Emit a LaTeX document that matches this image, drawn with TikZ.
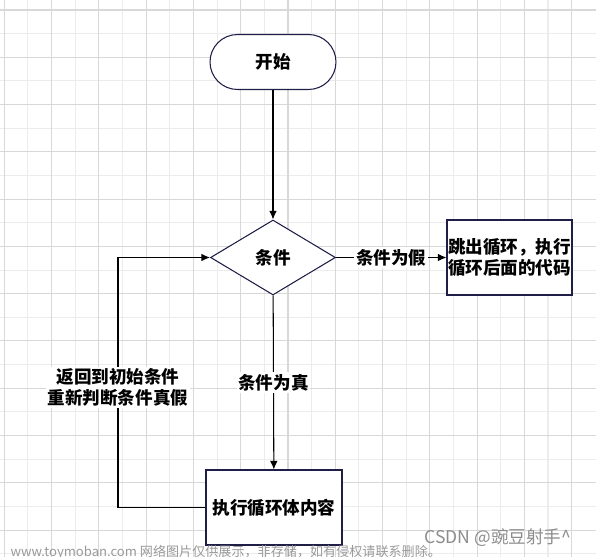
\documentclass[tikz,border=0pt]{standalone}
\usepackage{fontspec}
\setmainfont{Noto Sans CJK SC}
\usetikzlibrary{shapes.geometric, arrows.meta}
\definecolor{edgeblue}{RGB}{30,30,70}
\definecolor{gridmajor}{RGB}{216,216,216}
\definecolor{gridminor}{RGB}{236,236,236}
\tikzset{
  startstop/.style={draw=edgeblue, fill=white, rounded corners=0.55cm, minimum width=2.52cm, minimum height=1.1cm, font=\bfseries},
  decision/.style={draw=edgeblue, fill=white, diamond, inner sep=0pt, minimum width=2.5cm, minimum height=1.5cm, font=\bfseries},
  process/.style={draw=edgeblue, fill=white, inner xsep=0pt, minimum height=1.5cm, align=center, font=\bfseries},
  arrow/.style={-{Latex[length=1.7mm, width=1.5mm]}},
  lbl/.style={fill=white, inner sep=1pt, align=center, font=\bfseries},
}

\begin{document}
\begin{tikzpicture}[x=0.02cm, y=-0.02cm, line width=0.6pt, font=\fontsize{8.6}{14.6}\selectfont]
        \useasboundingbox (0,0) rectangle (596,557);
        % grid
        \foreach \i in {1,3,...,23} \draw[gridminor] ({4.3+23.64*\i},0) -- ({4.3+23.64*\i},557);
        \foreach \j in {1,3,...,23} \draw[gridminor] (0,{10+23.64*\j}) -- (596,{10+23.64*\j});
        \foreach \i in {0,2,...,24} \draw[gridmajor] ({4.3+23.64*\i},0) -- ({4.3+23.64*\i},557);
        \foreach \j in {0,2,...,22} \draw[gridmajor] (0,{10+23.64*\j}) -- (596,{10+23.64*\j});

        \node[startstop] (start) at (273,62) {开始};
        \node[decision] (cond) at (273,257.5) {条件};
        \node[process, minimum width=2.5cm] (exit) at (509.5,257.5) {跳出循环，执行\\循环后面的代码};
        \node[process, minimum width=2.72cm] (body) at (274,507.5) {执行循环体内容};
        \coordinate (back) at (118,507.5);

        \draw[arrow] (start) -- (cond);
        \draw[arrow] (cond) -- node[lbl] {条件为假} (exit);
        \draw[arrow] (cond) -- node[lbl] {条件为真} (body);
        \draw[arrow] (body.west) -- (back) |- node[lbl, pos=0.24] {返回到初始条件\\重新判断条件真假} (cond.west);

        % watermark
        \node[anchor=west, inner sep=0pt, text=black!40, font=\fontsize{7.45}{9}\selectfont] (mark) at (10,552) {www.toymoban.com 网络图片仅供展示，非存储，如有侵权请联系删除。};
        \node[anchor=west, inner sep=0pt, text=black!45, font=\fontsize{10}{12}\selectfont] (csdn) at (424,538) {CSDN @豌豆射手\textasciicircum};
\end{tikzpicture}
\end{document}
